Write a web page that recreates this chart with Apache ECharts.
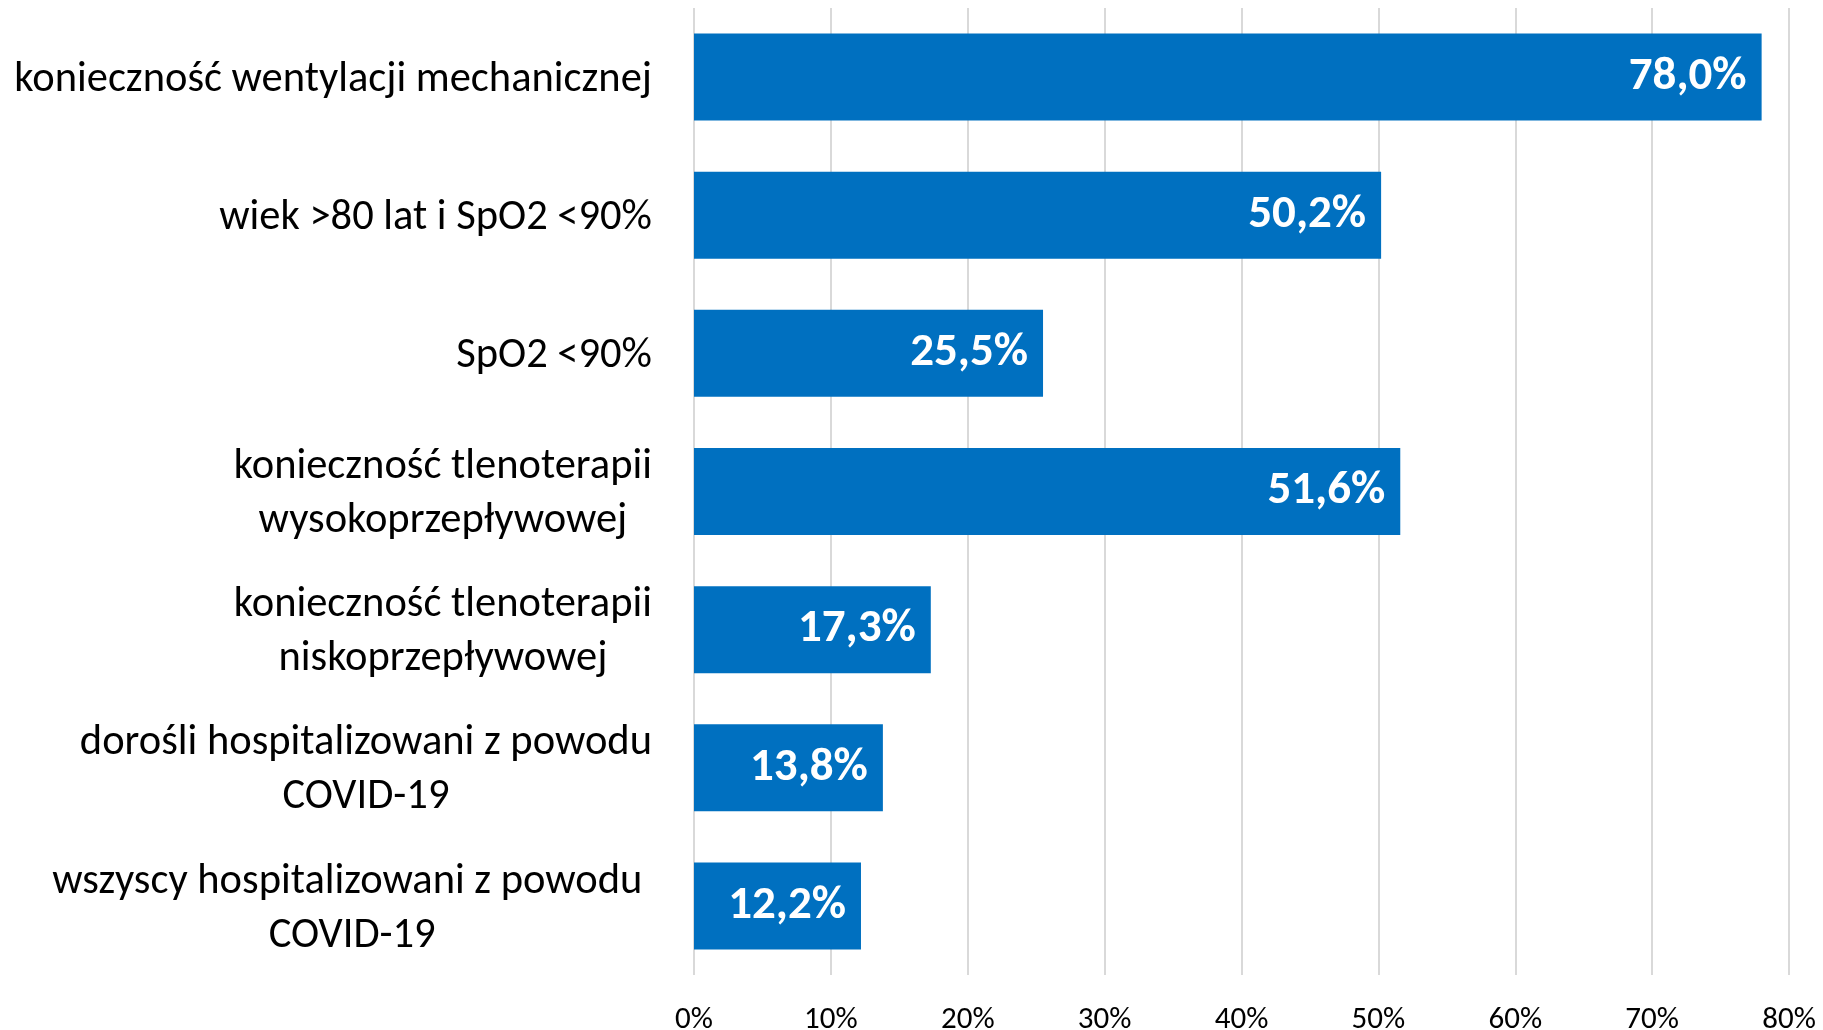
<!DOCTYPE html>
<html>
<head>
  <meta charset="utf-8">
  <title>Wskazania - odsetek</title>
  <style type="text/css">
    html, body { margin: 0; padding: 0; background: #fff; }
    #main { width: 1823px; height: 1030px; }
  </style>
</head>
<body>
<div id="main"></div>
<script type="text/javascript" src="https://cdn.jsdelivr.net/npm/echarts@6/dist/echarts.min.js"></script>
<script type="text/javascript">
  var categories = [
    'konieczność wentylacji mechanicznej',
    'wiek >80 lat i SpO2 <90%',
    'SpO2 <90%',
    'konieczność tlenoterapii\nwysokoprzepływowej',
    'konieczność tlenoterapii\nniskoprzepływowej',
    'dorośli hospitalizowani z powodu\nCOVID-19',
    'wszyscy hospitalizowani z powodu \nCOVID-19'
  ];
  var values = [78.0, 50.2, 25.5, 51.6, 17.3, 13.8, 12.2];
  var tickLabels = ['0%', '10%', '20%', '30%', '40%', '50%', '60%', '70%', '80%'];

  var font = 'Carlito, Calibri, Lato, sans-serif';
  var myChart = echarts.init(document.getElementById('main'));

  var option = {
    backgroundColor: '#fff',
    animation: false,
    grid: {
      left: 694,
      right: 34,
      top: 8,
      bottom: 55,
      containLabel: false,
      outerBoundsMode: 'none'
    },
    xAxis: {
      type: 'value',
      min: 0,
      max: 80,
      interval: 10,
      axisLine: {show: false},
      axisTick: {show: false},
      splitLine: {lineStyle: {color: '#d9d9d9', width: 2}},
      axisLabel: {
        margin: 30,
        fontFamily: font,
        fontSize: 31,
        color: '#000',
        formatter: function (v) {
          return tickLabels[Math.round(v / 10)];
        }
      }
    },
    yAxis: {
      type: 'category',
      inverse: true,
      data: categories,
      axisLine: {show: false},
      axisTick: {show: false},
      axisLabel: {
        margin: 42,
        padding: [6, 0, 0, 0],
        color: '#000',
        formatter: function (v) {
          return v.split('\n').map(function (s) { return '{c|' + s + '}'; }).join('\n');
        },
        rich: {
          c: {
            align: 'center',
            fontFamily: font,
            fontSize: 42.5,
            lineHeight: 54,
            color: '#000'
          }
        }
      }
    },
    series: [{
      type: 'bar',
      data: values,
      barCategoryGap: '37%',
      itemStyle: {color: '#0070C0'},
      label: {
        show: true,
        position: 'insideRight',
        distance: 15,
        padding: [5, 0, 0, 0],
        color: '#fff',
        fontFamily: font,
        fontWeight: 'bold',
        fontSize: 47,
        formatter: function (p) {
          return p.value.toFixed(1).replace('.', ',') + '%';
        }
      }
    }]
  };

  myChart.setOption(option);
</script>
</body>
</html>
